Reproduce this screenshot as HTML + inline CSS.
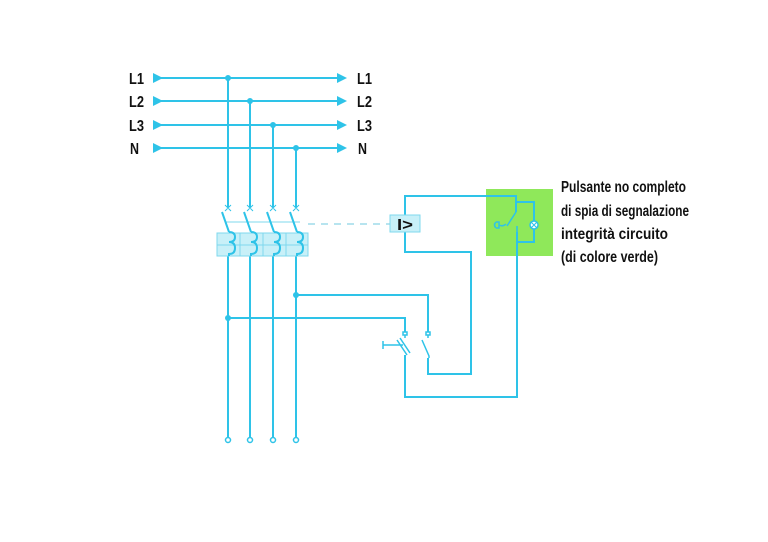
<!DOCTYPE html>
<html><head><meta charset="utf-8"><style>
html,body{margin:0;padding:0;background:#fff;}
svg{display:block;}
.t{font-family:"Liberation Sans",sans-serif;font-weight:bold;fill:#111;}
</style></head><body>
<svg width="768" height="542" viewBox="0 0 768 542">
<g class="t" font-size="16">
<text x="129" y="84" textLength="15" lengthAdjust="spacingAndGlyphs">L1</text><text x="129" y="107" textLength="15" lengthAdjust="spacingAndGlyphs">L2</text><text x="129" y="131" textLength="15" lengthAdjust="spacingAndGlyphs">L3</text><text x="130" y="154" textLength="9" lengthAdjust="spacingAndGlyphs">N</text>
<text x="357" y="84" textLength="15" lengthAdjust="spacingAndGlyphs">L1</text><text x="357" y="107" textLength="15" lengthAdjust="spacingAndGlyphs">L2</text><text x="357" y="131" textLength="15" lengthAdjust="spacingAndGlyphs">L3</text><text x="358" y="154" textLength="9" lengthAdjust="spacingAndGlyphs">N</text>
</g>
<rect x="486" y="189" width="67" height="67" fill="#8fe85a"/>
<g stroke="#2ec3e8" stroke-width="2" fill="none">
<line x1="153" y1="78" x2="345" y2="78"/>
<line x1="153" y1="101" x2="345" y2="101"/>
<line x1="153" y1="125" x2="345" y2="125"/>
<line x1="153" y1="148" x2="345" y2="148"/>
<line x1="228" y1="78" x2="228" y2="207"/>
<line x1="250" y1="101" x2="250" y2="207"/>
<line x1="273" y1="125" x2="273" y2="207"/>
<line x1="296" y1="148" x2="296" y2="207"/>
<line x1="228" y1="256" x2="228" y2="438"/>
<line x1="250" y1="256" x2="250" y2="438"/>
<line x1="273" y1="256" x2="273" y2="438"/>
<line x1="296" y1="256" x2="296" y2="438"/>
<polyline points="296,295 428,295 428,332"/>
<polyline points="228,318 405,318 405,332"/>
<polyline points="405,215 405,196 516,196 516,212"/>
<polyline points="405,232 405,252 471,252 471,374 428,374 428,358"/>
<polyline points="517,232 517,397 405,397 405,355"/>
<polyline points="516,202 534,202 534,242 517,242"/>
</g>
<g fill="#2ec3e8">
<polygon points="153,73 163,78 153,83"/><polygon points="153,96 163,101 153,106"/><polygon points="153,120 163,125 153,130"/><polygon points="153,143 163,148 153,153"/>
<polygon points="337,73 347,78 337,83"/><polygon points="337,96 347,101 337,106"/><polygon points="337,120 347,125 337,130"/><polygon points="337,143 347,148 337,153"/>
<circle cx="228" cy="78" r="3"/><circle cx="250" cy="101" r="3"/><circle cx="273" cy="125" r="3"/><circle cx="296" cy="148" r="3"/>
<circle cx="228" cy="318" r="3"/><circle cx="296" cy="295" r="3"/>
</g>
<g stroke="#2ec3e8" stroke-width="1.5" fill="#fff">
<circle cx="228" cy="440" r="2.5"/><circle cx="250" cy="440" r="2.5"/><circle cx="273" cy="440" r="2.5"/><circle cx="296" cy="440" r="2.5"/>
</g>
<rect x="217" y="233" width="91" height="23" fill="#c8f0f8" stroke="#7fd8ee" stroke-width="1"/>
<g stroke="#7fd8ee" stroke-width="1" fill="none">
<line x1="217" y1="245" x2="308" y2="245"/>
<line x1="240" y1="233" x2="240" y2="256"/><line x1="263" y1="233" x2="263" y2="256"/><line x1="286" y1="233" x2="286" y2="256"/>
<line x1="226" y1="222" x2="300" y2="222"/>
</g>
<g stroke="#2ec3e8" stroke-width="2" fill="none">
<path d="M222,212 L229,232 M229,232 q6,0 6,5 q0,5 -6,5 q6,0 6,6 q0,6 -6,6 L229,256"/>
<path d="M244,212 L251,232 M251,232 q6,0 6,5 q0,5 -6,5 q6,0 6,6 q0,6 -6,6 L251,256"/>
<path d="M267,212 L274,232 M274,232 q6,0 6,5 q0,5 -6,5 q6,0 6,6 q0,6 -6,6 L274,256"/>
<path d="M290,212 L297,232 M297,232 q6,0 6,5 q0,5 -6,5 q6,0 6,6 q0,6 -6,6 L297,256"/>
</g>
<g stroke="#2ec3e8" stroke-width="1" fill="none">
<path d="M225,205 l6,6 M231,205 l-6,6 M247,205 l6,6 M253,205 l-6,6 M270,205 l6,6 M276,205 l-6,6 M293,205 l6,6 M299,205 l-6,6"/>
</g>
<line x1="308" y1="224" x2="390" y2="224" stroke="#9fdcea" stroke-width="1.5" stroke-dasharray="7,6"/>
<rect x="390" y="215" width="30" height="17" fill="#c8f0f8" stroke="#7fd8ee"/>
<text x="397" y="230" class="t" font-size="16" textLength="16" lengthAdjust="spacingAndGlyphs">I&gt;</text>
<g stroke="#2ec3e8" stroke-width="1.5" fill="none">
<path d="M516,212 L507,226 M517,232 L517,226"/>
<path d="M496,222 q-3,3 0,6 M496,222 h3 v6 h-3 M499,225 q4,2 7,-1"/>
<circle cx="534" cy="225" r="4" fill="#fff"/>
<path d="M531,222 l6,6 M537,222 l-6,6" stroke-width="1"/>
</g>
<g stroke="#2ec3e8" stroke-width="1.5" fill="none">
<rect x="403" y="332" width="4" height="3"/><rect x="426" y="332" width="4" height="3"/>
<path d="M405,335 v3 M428,335 v3"/>
<path d="M397,340 L407,355 M400,338 L410,353 M383,345 h20 M383,341 v8"/>
<path d="M422,340 L429,356 L429,358"/>
</g>
<g class="t" font-size="16">
<text x="561" y="192" textLength="125" lengthAdjust="spacingAndGlyphs">Pulsante no completo</text>
<text x="561" y="216" textLength="128" lengthAdjust="spacingAndGlyphs">di spia di segnalazione</text>
<text x="561" y="239" textLength="107" lengthAdjust="spacingAndGlyphs">integrità circuito</text>
<text x="561" y="262" textLength="97" lengthAdjust="spacingAndGlyphs">(di colore verde)</text>
</g>
</svg>
</body></html>
